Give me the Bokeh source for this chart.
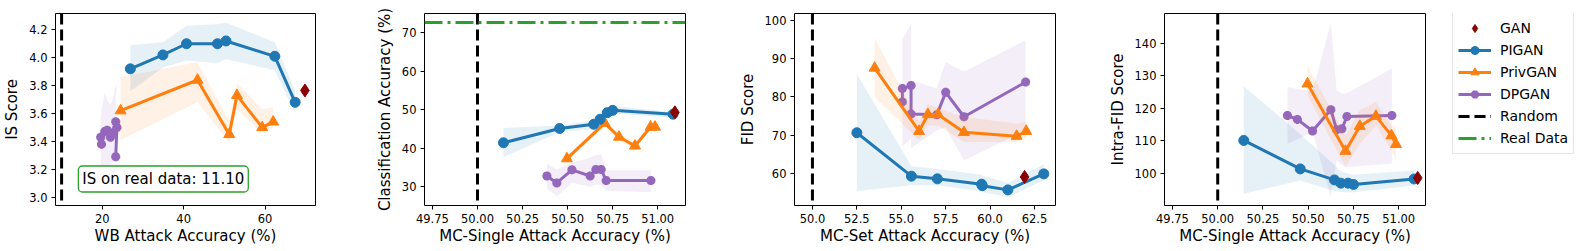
from bokeh.plotting import figure
from bokeh.layouts import row
from bokeh.models import Span, Label, Legend, LegendItem, FixedTicker, Range1d, NumeralTickFormatter
from bokeh.embed import file_html
from bokeh.resources import INLINE

FONT = "DejaVu Sans"
BLUE = "#1f77b4"; ORANGE = "#ff7f0e"; PURPLE = "#9467bd"; GREEN = "#2ca02c"; DARKRED = "#8b0000"

# ---------------- Panel 1: WB attack vs IS ----------------
wb_pigan_x = [26.9, 34.9, 40.7, 48.3, 50.4, 62.4, 67.4]
wb_pigan_y = [3.92, 4.02, 4.10, 4.10, 4.12, 4.01, 3.68]
wb_pigan_lo = [3.76, 3.93, 3.98, 3.96, 3.99, 3.91, 3.60]
wb_pigan_hi = [4.09, 4.11, 4.23, 4.24, 4.25, 4.11, 3.76]
wb_priv_x = [24.5, 43.4, 51.2, 53.1, 59.3, 62.0]
wb_priv_y = [3.62, 3.84, 3.45, 3.73, 3.50, 3.54]
wb_priv_lo = [3.41, 3.68, 3.39, 3.63, 3.46, 3.50]
wb_priv_hi = [3.86, 3.97, 3.54, 3.82, 3.63, 3.645]
wb_dp_x = [19.6, 19.8, 20.6, 21.2, 22.0, 22.5, 23.3, 23.6, 23.3]
wb_dp_y = [3.43, 3.38, 3.47, 3.48, 3.43, 3.46, 3.54, 3.50, 3.29]
wb_dp_lo = [3.30, 3.02, 3.10, 3.20, 3.22, 3.25, 3.30, 3.28, 3.20]
wb_dp_hi = [3.55, 3.62, 3.75, 3.70, 3.66, 3.70, 3.80, 3.78, 3.74]
wb_gan = (69.8, 3.765)
wb_random = 10
is_real_text = "IS on real data: 11.10"

# ---------------- Panel 2 & 4: MC-Single attack ----------------
ms_pigan_x = [50.144, 50.456, 50.645, 50.68, 50.72, 50.75, 51.085]
ms_priv_x = [50.496, 50.706, 50.785, 50.874, 50.96, 50.985]
ms_dp_x = [50.385, 50.44, 50.524, 50.625, 50.657, 50.686, 50.714, 50.962]
ms_random = 50.0

acc_pigan_y = [41.4, 45.1, 46.2, 47.5, 49.2, 49.8, 48.8]
acc_pigan_lo = [37.7, 44.2, 45.0, 46.5, 48.2, 49.0, 47.9]
acc_pigan_hi = [45.2, 45.9, 47.2, 48.5, 50.3, 50.9, 49.4]
acc_priv_y = [37.3, 46.5, 42.9, 40.6, 45.5, 45.5]
acc_priv_lo = [36.6, 45.7, 42.0, 39.8, 44.8, 44.8]
acc_priv_hi = [38.0, 47.2, 43.8, 41.5, 46.2, 46.2]
acc_dp_y = [32.8, 31.0, 34.4, 32.8, 34.5, 34.5, 31.6, 31.6]
acc_dp_lo = [29.5, 27.6, 31.0, 30.0, 30.5, 30.5, 29.0, 28.6]
acc_dp_hi = [36.0, 34.5, 36.2, 37.5, 38.3, 38.3, 34.3, 34.3]
acc_gan = (51.095, 49.3)
acc_real = 72.6

ifid_pigan_y = [110.1, 101.3, 97.9, 96.9, 96.9, 96.5, 98.2]
ifid_pigan_lo = [93.6, 97.7, 94.5, 94.2, 94.0, 94.1, 96.2]
ifid_pigan_hi = [126.8, 112.0, 102.5, 100.5, 99.8, 99.5, 100.8]
ifid_priv_y = [127.6, 106.8, 114.5, 117.6, 111.6, 108.9]
ifid_priv_lo = [124.0, 101.9, 109.0, 114.7, 107.0, 104.1]
ifid_priv_hi = [133.1, 111.6, 119.4, 122.0, 114.7, 114.2]
ifid_dp_y = [117.8, 116.6, 113.0, 119.6, 113.4, 113.7, 117.5, 117.8]
ifid_dp_lo = [109.0, 110.5, 112.7, 92.6, 104.0, 102.5, 101.9, 102.9]
ifid_dp_hi = [126.6, 126.0, 125.4, 146.4, 125.6, 124.5, 124.7, 132.3]
ifid_gan = (51.105, 98.5)

# ---------------- Panel 3: MC-Set attack vs FID ----------------
mset_pigan_x = [52.5, 55.57, 57.03, 59.52, 59.56, 61.0, 63.02]
fid_pigan_y = [70.6, 59.2, 58.5, 57.1, 56.7, 55.6, 59.8]
fid_pigan_lo = [55.3, 56.8, 56.8, 55.2, 55.0, 53.7, 58.1]
fid_pigan_hi = [86.0, 61.8, 61.1, 59.6, 59.4, 57.4, 62.3]
mset_priv_x = [53.5, 56.0, 56.5, 57.07, 58.53, 61.49, 62.03]
fid_priv_y = [87.6, 71.0, 75.4, 75.4, 70.7, 69.7, 71.0]
fid_priv_lo = [80.0, 68.6, 72.5, 72.5, 68.2, 68.2, 69.0]
fid_priv_hi = [95.5, 73.4, 78.2, 77.0, 74.7, 73.0, 73.4]
mset_dp_x = [55.06, 55.06, 55.55, 55.55, 57.0, 57.5, 58.53, 62.0]
fid_dp_y = [78.7, 82.2, 83.0, 75.5, 75.3, 81.2, 74.8, 83.9]
fid_dp_lo = [66.8, 67.0, 69.0, 66.5, 71.2, 72.0, 63.3, 71.2]
fid_dp_hi = [94.5, 95.0, 99.3, 84.4, 82.2, 89.2, 86.6, 94.9]
fid_gan = (61.94, 59.0)
mset_random = 50.0

# tick values
p1_xticks = [20, 40, 60]
p1_yticks = [3.0, 3.2, 3.4, 3.6, 3.8, 4.0, 4.2]
ms_xticks = [49.75, 50.0, 50.25, 50.5, 50.75, 51.0]
p2_yticks = [30, 40, 50, 60, 70]
p3_xticks = [50.0, 52.5, 55.0, 57.5, 60.0, 62.5]
p3_yticks = [60, 70, 80, 90, 100]
p4_yticks = [100, 110, 120, 130, 140]

legend_labels = ["GAN", "PIGAN", "PrivGAN", "DPGAN", "Random", "Real Data"]


def make_fig(width, left, right, xr, yr, xticks, xfmt, yticks, yfmt, xlabel, ylabel):
    p = figure(width=width, height=250, x_range=Range1d(*xr), y_range=Range1d(*yr),
               output_backend="svg", toolbar_location=None,
               min_border_left=left, min_border_right=right,
               min_border_top=13, min_border_bottom=45)
    p.grid.visible = False
    p.outline_line_color = "black"
    p.outline_line_width = 1
    p.outline_line_alpha = 1
    p.background_fill_color = "white"
    p.border_fill_color = "white"
    for ax, ticks, fmt, lab in [(p.xaxis[0], xticks, xfmt, xlabel), (p.yaxis[0], yticks, yfmt, ylabel)]:
        ax.ticker = FixedTicker(ticks=ticks)
        ax.formatter = NumeralTickFormatter(format=fmt)
        ax.axis_label = lab
        ax.axis_label_text_font = FONT
        ax.axis_label_text_font_size = "15px"
        ax.axis_label_text_font_style = "normal"
        ax.axis_label_text_color = "black"
        ax.major_label_text_font = FONT
        ax.major_label_text_font_size = "11.5px"
        ax.major_label_text_color = "black"
        ax.minor_tick_line_color = None
        ax.major_tick_in = 0
        ax.major_tick_out = 4
        ax.major_tick_line_color = "black"
        ax.axis_line_color = None
        ax.major_label_standoff = 4
        ax.axis_label_standoff = 1
    p.yaxis[0].major_label_standoff = 4
    p.yaxis[0].axis_label_standoff = 5
    return p


def draw_series(p, x, y, lo, hi, color, marker, size, extra=None, band=True):
    if band:
        p.varea(x=x, y1=lo, y2=hi, fill_color=color, fill_alpha=0.11)
    ln = p.line(x=x, y=y, line_color=color, line_width=3)
    kw = dict(marker=marker, size=size, fill_color=color, line_color=color)
    if extra:
        kw.update(extra)
    sc = p.scatter(x=x, y=y, **kw)
    return [ln, sc]


DP_STYLE = dict(line_width=3)


def draw_all(p, px, py, plo, phi, vx, vy, vlo, vhi, dx, dy, dlo, dhi, gan, band=True, sizes=(9, 11, 10)):
    d = draw_series(p, dx, dy, dlo, dhi, PURPLE, "asterisk", sizes[0], DP_STYLE, band)
    v = draw_series(p, vx, vy, vlo, vhi, ORANGE, "triangle", sizes[1], None, band)
    pg = draw_series(p, px, py, plo, phi, BLUE, "circle", sizes[2], None, band)
    g = p.scatter(x=[gan[0]], y=[gan[1]], marker="diamond", size=13, fill_color=DARKRED, line_color=DARKRED)
    return pg, v, d, g


def random_span(loc):
    return Span(location=loc, dimension="height", line_color="black", line_width=3, line_dash="11 5")


p1 = make_fig(370, 54, 55, (8.5, 72.4), (2.94, 4.317), p1_xticks, "0", p1_yticks, "0.0",
              "WB Attack Accuracy (%)", "IS Score")
p1.add_layout(random_span(wb_random))
draw_all(p1, wb_pigan_x, wb_pigan_y, wb_pigan_lo, wb_pigan_hi,
         wb_priv_x, wb_priv_y, wb_priv_lo, wb_priv_hi,
         wb_dp_x, wb_dp_y, wb_dp_lo, wb_dp_hi, wb_gan)
p1.add_layout(Label(x=35.0, y=3.13, text=is_real_text, text_align="center", text_baseline="middle",
                    text_font=FONT, text_font_size="15px", text_color="black",
                    background_fill_color="white", border_line_color=GREEN, border_line_width=1.3,
                    padding=4, border_radius=4))

p2 = make_fig(360, 54, 45, (49.706, 51.154), (25.15, 74.9), ms_xticks, "0.00", p2_yticks, "0",
              "MC-Single Attack Accuracy (%)", "Classification Accuracy (%)")
p2.add_layout(random_span(ms_random))
p2.add_layout(Span(location=acc_real, dimension="width", line_color=GREEN, line_width=3, line_dash="18 5 3 5"))
draw_all(p2, ms_pigan_x, acc_pigan_y, acc_pigan_lo, acc_pigan_hi,
         ms_priv_x, acc_priv_y, acc_priv_lo, acc_priv_hi,
         ms_dp_x, acc_dp_y, acc_dp_lo, acc_dp_hi, acc_gan)

p3 = make_fig(370, 64, 45, (48.99, 63.68), (51.5, 101.9), p3_xticks, "0.0", p3_yticks, "0",
              "MC-Set Attack Accuracy (%)", "FID Score")
p3.add_layout(random_span(mset_random))
draw_all(p3, mset_pigan_x, fid_pigan_y, fid_pigan_lo, fid_pigan_hi,
         mset_priv_x, fid_priv_y, fid_priv_lo, fid_priv_hi,
         mset_dp_x, fid_dp_y, fid_dp_lo, fid_dp_hi, fid_gan)

p4 = make_fig(340, 64, 15, (49.706, 51.148), (90.0, 149.3), ms_xticks, "0.00", p4_yticks, "0",
              "MC-Single Attack Accuracy (%)", "Intra-FID Score")
p4.add_layout(random_span(ms_random))
draw_all(p4, ms_pigan_x, ifid_pigan_y, ifid_pigan_lo, ifid_pigan_hi,
         ms_priv_x, ifid_priv_y, ifid_priv_lo, ifid_priv_hi,
         ms_dp_x, ifid_dp_y, ifid_dp_lo, ifid_dp_hi, ifid_gan)

# ---------------- Legend panel ----------------
# The legend lives in its own axis-less plot; its renderers reuse panel-4 data,
# which lies outside this plot's (0, 1) ranges and therefore draws nothing here.
p5 = figure(width=146, height=250, x_range=Range1d(0, 1), y_range=Range1d(0, 1),
            output_backend="svg", toolbar_location=None,
            x_axis_location=None, y_axis_location=None,
            min_border_left=0, min_border_right=0, min_border_top=0, min_border_bottom=0)
p5.grid.visible = False
p5.outline_line_color = None
p5.border_fill_color = "white"
pg_l, v_l, d_l, g_l = draw_all(p5, ms_pigan_x, ifid_pigan_y, None, None,
                               ms_priv_x, ifid_priv_y, None, None,
                               ms_dp_x, ifid_dp_y, None, None, ifid_gan,
                               band=False, sizes=(8, 9, 8))
rand_leg = p5.line(x=[ms_random, ms_random], y=[p4_yticks[0], p4_yticks[-1]],
                   line_color="black", line_width=3, line_dash="11 5")
real_leg = p5.line(x=[ms_xticks[0], ms_xticks[-1]], y=[acc_real, acc_real],
                   line_color=GREEN, line_width=3, line_dash="18 5 3 5")

legend = Legend(items=[
    LegendItem(label=legend_labels[0], renderers=[g_l]),
    LegendItem(label=legend_labels[1], renderers=pg_l),
    LegendItem(label=legend_labels[2], renderers=v_l),
    LegendItem(label=legend_labels[3], renderers=d_l),
    LegendItem(label=legend_labels[4], renderers=[rand_leg]),
    LegendItem(label=legend_labels[5], renderers=[real_leg]),
], location=(12, 51))
legend.label_text_font = FONT
legend.label_text_font_size = "14px"
legend.label_text_color = "black"
legend.glyph_width = 33
legend.glyph_height = 20
legend.label_height = 20
legend.spacing = 2
legend.padding = 5
legend.margin = 0
legend.label_standoff = 9
legend.border_line_color = "#cccccc"
legend.border_line_width = 1
legend.background_fill_color = "white"
legend.background_fill_alpha = 0.8
p5.add_layout(legend)

layout = row(p1, p2, p3, p4, p5)
open("out.html", "w").write(file_html(layout, INLINE))
